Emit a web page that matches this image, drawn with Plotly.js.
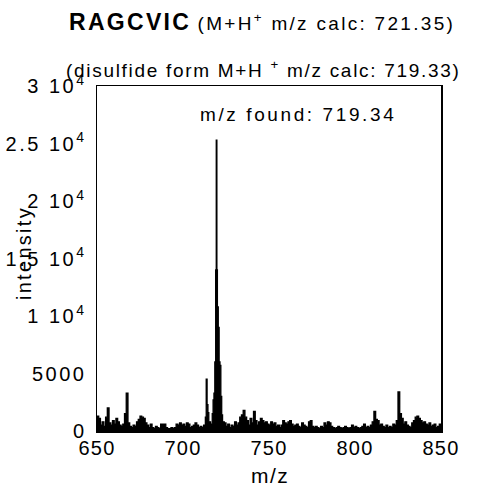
<!DOCTYPE html>
<html>
<head>
<meta charset="utf-8">
<script src="https://cdn.plot.ly/plotly-3.0.1.min.js"></script>
<style>html,body{margin:0;padding:0;background:#fff;}#chart{width:477px;height:490px;}</style>
</head>
<body>
<div id="chart"></div>
<script>
const mz = [650,651,652,653,654,655,656,657,658,659,660,661,662,663,664,665,666,667,668,669,
670,671,672,673,674,675,676,677,678,679,680,681,682,683,684,685,686,687,688,689,
690,691,692,693,694,695,696,697,698,699,700,701,702,703,704,705,706,707,708,709,
710,711,712,713,713.5,714,714.5,715,716,717,717.5,718,718.5,719,719.34,719.7,720,720.5,721,721.5,
722,722.5,723,724,725,726,727,728,729,730,731,732,733,734,735,736,737,738,739,740,
741,742,743,744,745,746,747,748,749,750,751,752,753,754,755,756,757,758,759,760,
761,762,763,764,765,766,767,768,769,770,771,772,773,774,775,776,777,778,779,780,
781,782,783,784,785,786,787,788,789,790,791,792,793,794,795,796,797,798,799,800,
801,802,803,804,805,806,807,808,809,810,811,812,813,814,815,816,817,818,819,820,
821,822,823,824,825,826,827,828,829,830,831,832,833,834,835,836,837,838,839,840,
841,842,843,844,845,846,847,848,849,850];
const intensity = [1300,1100,500,800,400,1200,2000,700,500,900,600,1100,800,500,400,600,1500,3300,700,400,
300,500,400,800,1000,1300,1200,1100,700,500,300,600,300,200,400,300,200,600,600,600,
300,200,200,300,200,300,600,500,700,500,600,400,700,600,300,400,500,700,500,300,
400,300,500,1200,4500,2300,1600,800,600,1500,2700,3300,6000,14000,25300,14000,10800,9000,6000,5700,
3000,1400,800,700,400,600,300,500,400,800,500,700,1200,1400,1800,1200,900,500,1100,700,
1700,900,500,800,1100,900,700,800,600,500,800,600,700,400,500,300,500,900,700,600,
800,900,600,400,500,600,400,300,700,500,400,300,800,900,400,300,400,300,200,400,
300,700,500,800,700,400,300,200,300,400,300,200,300,400,300,200,300,500,300,400,
300,200,300,400,600,300,400,300,500,800,1700,1000,900,500,600,400,300,500,300,400,
300,600,500,900,3400,1500,1100,600,800,500,400,300,700,900,1200,1300,1100,900,700,800,
600,500,700,400,500,600,300,400,600,500];
const xTicks = [650,700,750,800,850];
const yTicks = [0,5000,10000,15000,20000,25000,30000];
const yTickLabels = ['0','5000','1 10<sup>4</sup>','1.5 10<sup>4</sup>','2 10<sup>4</sup>','2.5 10<sup>4</sup>','3 10<sup>4</sup>'];
const titleBold = 'RAGCVIC';
const titleRest = '(M+H<sup>+</sup> m/z calc: 721.35)';
const titleLine2 = '(disulfide form M+H <sup>+</sup> m/z calc: 719.33)';
const foundLabel = 'm/z found: 719.34';
const xTitle = 'm/z';
const yTitle = 'intensity';

const fontFam = 'Liberation Sans, Arial, sans-serif';
const sp = (t, ls) => '<span style="letter-spacing:' + ls + 'px">' + t + '</span>';

const trace = {
  x: mz, y: intensity, type: 'scatter', mode: 'lines',
  line: {color: '#000', width: 1.3, shape: 'hv'},
  fill: 'tozeroy', fillcolor: '#000', hoverinfo: 'skip'
};
const layout = {
  width: 477, height: 490,
  margin: {l: 97, r: 36, t: 86, b: 59},
  paper_bgcolor: '#fff', plot_bgcolor: '#fff',
  showlegend: false,
  font: {family: fontFam, color: '#000', size: 18},
  xaxis: {
    range: [650, 850], tickvals: xTicks, ticktext: xTicks.map(v => sp(String(v), 1.2)),
    showline: true, mirror: true, linecolor: '#000', linewidth: 1.5,
    showgrid: false, zeroline: false, ticks: '', ticklabelstandoff: -2,
    tickfont: {size: 20, family: fontFam}
  },
  yaxis: {
    range: [0, 30000], tickvals: yTicks, ticktext: yTickLabels.map(t => sp(t, 2.5)),
    showline: true, mirror: true, linecolor: '#000', linewidth: 1.5,
    showgrid: false, zeroline: false, ticks: '', ticklabelstandoff: 5,
    tickfont: {size: 20, family: fontFam}
  },
  annotations: [
    {text: '<span style="letter-spacing:2.3px"><b>' + titleBold + '</b></span> ' + '<span style="font-size:19px;letter-spacing:2.3px">' + titleRest + '</span>', xref: 'paper', yref: 'paper', x: 0.48, y: 1.186, xanchor: 'center', yanchor: 'middle', showarrow: false, font: {size: 23, family: fontFam}},
    {text: sp(titleLine2, 1.7), xref: 'paper', yref: 'paper', x: 0.483, y: 1.049, xanchor: 'center', yanchor: 'middle', showarrow: false, font: {size: 19, family: fontFam}},
    {text: sp(foundLabel, 2.6), xref: 'paper', yref: 'paper', x: 0.584, y: 0.916, xanchor: 'center', yanchor: 'middle', showarrow: false, font: {size: 19, family: fontFam}},
    {text: sp(yTitle, 2.3), xref: 'paper', yref: 'paper', x: -0.212, y: 0.516, xanchor: 'center', yanchor: 'middle', textangle: -90, showarrow: false, font: {size: 20, family: fontFam}},
    {text: sp(xTitle, 1.5), xref: 'paper', yref: 'paper', x: 0.503, y: -0.13, xanchor: 'center', yanchor: 'middle', showarrow: false, font: {size: 21, family: fontFam}}
  ]
};
Plotly.newPlot('chart', [trace], layout, {displayModeBar: false, staticPlot: true});
</script>
</body>
</html>
